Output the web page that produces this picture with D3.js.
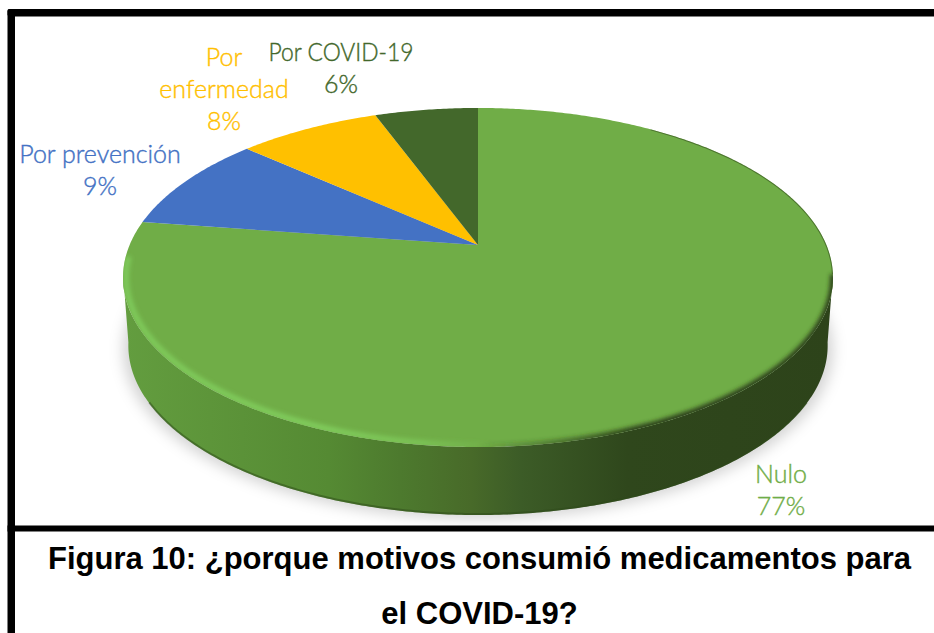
<!DOCTYPE html>
<html><head><meta charset="utf-8">
<script src="https://cdn.jsdelivr.net/npm/d3@7/dist/d3.min.js"></script>
<style>html,body{margin:0;padding:0;background:#fff;overflow:hidden}svg{display:block}</style>
</head><body><svg id="c" width="934" height="633"></svg>
<script>
const categories = ["Nulo", "Por prevención", "Por enfermedad", "Por COVID-19"];
const values = [77.3, 9.25, 7.8, 5.65];
const titleLines = ["Figura 10: ¿porque motivos consumió medicamentos para", "el COVID-19?"];

// layout / style, separate from the data
const colors = ["#70AD47", "#4472C4", "#FFC000", "#43682B"];
const labelLines = [["Nulo"], ["Por prevención"], ["Por", "enfermedad"], ["Por COVID-19"]];
const labelAnchors = [[781, 483], [100, 163], [224, 66], [341, 61]];
const labelFit = [null, null, null, 145];
const W = 934, H = 633, TILT = -0.1917, DEPTH = 68;

const svg = d3.select("#c");
const defs = svg.append("defs");

const pie = d3.pie().sort(null).value(d => d);
const arcs = pie(values);

// unit disc -> screen, through the perspective of the tilted pie
const xS = d3.scaleLinear().domain([-1, 1]).range([478 - 348.4, 478 + 348.4]);
const yS = d3.scaleLinear().domain([-1, 1]).range([245 - 163.3, 245 + 163.3]);
const proj = (a, r = 1, dy = 0, sx = 1) => {
  const x = r * Math.sin(a), y = -r * Math.cos(a), w = 1 + TILT * y;
  return [478 + (xS(x / w) - 478) * sx, yS(y / w) + dy];
};
const line = d3.line();
const sweep = (a0, a1, ...rest) => {
  const n = Math.max(2, Math.ceil(Math.abs(a1 - a0) / 0.01));
  return d3.range(n + 1).map(i => proj(a0 + (a1 - a0) * i / n, ...rest));
};
const rad = d => d * Math.PI / 180;
const wedge = d => line([proj(0, 0), ...sweep(d.startAngle, d.endAngle)]) + "Z";
const disc = line(sweep(0, 2 * Math.PI)) + "Z";

// gradients + filters
const grad = (id, stops) => {
  const g = defs.append("linearGradient").attr("id", id).attr("gradientUnits", "userSpaceOnUse")
    .attr("x1", 123).attr("x2", 833).attr("y1", 0).attr("y2", 0);
  stops.forEach(s => g.append("stop").attr("offset", s[0]).attr("stop-color", s[1]).attr("stop-opacity", s[2] === undefined ? 1 : s[2]));
};
grad("wall", [[0, "#639d3f"], [0.29, "#558a33"], [0.39, "#4d7a2e"], [0.49, "#486a29"], [0.56, "#3c5c27"], [0.71, "#2f471c"], [1, "#2d431a"]]);
grad("rimLight", [[0, "#80cc5c", 0.9], [0.28, "#80cc5c", 1], [0.42, "#80cc5c", 0.7], [0.52, "#80cc5c", 0]]);
grad("rimDark", [[0.5, "#2d431a", 0], [0.6, "#2d431a", 0.45], [0.72, "#2d431a", 1], [1, "#2d431a", 1]]);
const blur = (id, s) => defs.append("filter").attr("id", id).attr("x", "-10%").attr("y", "-10%").attr("width", "120%").attr("height", "120%")
  .append("feGaussianBlur").attr("stdDeviation", s);
blur("b2", 2); blur("b8", 7);
defs.append("clipPath").attr("id", "faceClip").append("path").attr("d", disc);
defs.append("clipPath").attr("id", "plotClip").append("rect").attr("x", 15).attr("y", 16).attr("width", W).attr("height", 509);

// soft shadow
svg.append("g").attr("clip-path", "url(#plotClip)").append("path")
  .attr("d", line(sweep(0, 2 * Math.PI, 1, DEPTH + 4, 1)) + "Z")
  .attr("fill", "#000").attr("fill-opacity", 0.17).attr("filter", "url(#b8)");

// side wall
svg.append("path")
  .attr("d", line([...sweep(rad(100), rad(260)), ...sweep(rad(260), rad(100), 1, DEPTH, 0.985)]) + "Z")
  .attr("fill", "url(#wall)");
svg.append("path")
  .attr("d", line(sweep(rad(120), rad(240), 1, DEPTH - 1, 0.985)))
  .attr("fill", "none").attr("stroke", "#2d4a1a").attr("stroke-opacity", 0.5).attr("stroke-width", 2);

// top face, one wedge per category
svg.append("g").selectAll("path").data(arcs).join("path")
  .attr("d", wedge).attr("fill", (d, i) => colors[i]);

// bevel along the rim
const bevel = svg.append("g").attr("clip-path", "url(#faceClip)");
bevel.append("path")
  .attr("d", line(sweep(rad(135), rad(266), 0.992)))
  .attr("fill", "none").attr("stroke", "url(#rimLight)").attr("stroke-width", 6).attr("filter", "url(#b2)");
bevel.append("path")
  .attr("d", line(sweep(rad(100), rad(200), 1.004)))
  .attr("fill", "none").attr("stroke", "url(#rimDark)").attr("stroke-width", 9).attr("filter", "url(#b2)");
bevel.append("path")
  .attr("d", line(sweep(rad(35), rad(100))))
  .attr("fill", "none").attr("stroke", "#2d431a").attr("stroke-opacity", 0.55).attr("stroke-width", 2);

// labels
const labels = svg.append("g").attr("font-family", "Lato, Carlito, sans-serif").attr("font-size", 25).attr("font-weight", 300).attr("text-anchor", "middle");
arcs.forEach((d, i) => {
  const [x, y] = labelAnchors[i];
  const rows = [...labelLines[i], Math.round(values[i]) + "%"];
  rows.forEach((t, j) => {
    const el = labels.append("text").attr("x", x).attr("y", y + j * 32).attr("fill", colors[i])
      .attr("stroke", colors[i]).attr("stroke-width", 0.4).text(t);
    if (labelFit[i] && j === 0) el.attr("textLength", labelFit[i]).attr("lengthAdjust", "spacingAndGlyphs");
  });
});

// frame
const frame = svg.append("g").attr("fill", "#000");
frame.append("rect").attr("x", 7.5).attr("y", 9).attr("width", W).attr("height", 7.5).attr("rx", 2);
frame.append("rect").attr("x", 7.5).attr("y", 9).attr("width", 7.5).attr("height", H).attr("rx", 2);
frame.append("rect").attr("x", 7.5).attr("y", 525.5).attr("width", W).attr("height", 6);

// title
svg.append("g").attr("font-family", "'Liberation Sans', Arial, sans-serif").attr("font-weight", 700)
  .attr("font-size", 31).attr("text-anchor", "middle").attr("fill", "#000")
  .selectAll("text").data(titleLines).join("text")
  .attr("x", 479.5).attr("y", (d, i) => 569 + i * 55).text(d => d);
</script></body></html>
